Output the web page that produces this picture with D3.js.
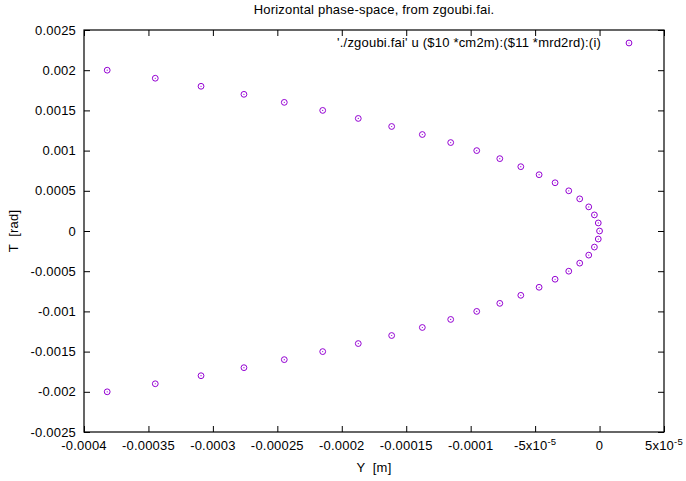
<!DOCTYPE html>
<html lang="en">
<head>
<meta charset="UTF-8">
<title>Horizontal phase-space, from zgoubi.fai.</title>
<script src="https://d3js.org/d3.v7.min.js"></script>
<style>
    body { margin: 0; background: #fff; }
    svg { display: block; font-family: 'Liberation Sans', Arial, sans-serif; }
    text { fill: #000; letter-spacing: 0.2px; }
</style>
</head>
<body>
<div id="chart"></div>
<script>
    // T [rad] of each particle
    const tValues = [
        0.002, 0.0019, 0.0018, 0.0017, 0.0016, 0.0015, 0.0014, 0.0013, 0.0012, 0.0011,
        0.001, 0.0009, 0.0008, 0.0007, 0.0006, 0.0005, 0.0004, 0.0003, 0.0002, 0.0001,
        0,
        -0.0001, -0.0002, -0.0003, -0.0004, -0.0005, -0.0006, -0.0007, -0.0008, -0.0009, -0.001,
        -0.0011, -0.0012, -0.0013, -0.0014, -0.0015, -0.0016, -0.0017, -0.0018, -0.0019, -0.002
    ];
    // Y [m] of each particle
    const yValues = [
        -3.82e-4, -3.447e-4, -3.092e-4, -2.759e-4, -2.446e-4, -2.148e-4, -1.872e-4, -1.613e-4, -1.375e-4, -1.155e-4,
        -9.53e-5, -7.74e-5, -6.11e-5, -4.69e-5, -3.45e-5, -2.39e-5, -1.54e-5, -8.4e-6, -4.0e-6, -1.0e-6,
        0,
        -1.0e-6, -4.0e-6, -8.4e-6, -1.54e-5, -2.39e-5, -3.45e-5, -4.69e-5, -6.11e-5, -7.74e-5, -9.53e-5,
        -1.155e-4, -1.375e-4, -1.613e-4, -1.872e-4, -2.148e-4, -2.446e-4, -2.759e-4, -3.092e-4, -3.447e-4, -3.82e-4
    ];

    const xTicks = [-0.0004, -0.00035, -0.0003, -0.00025, -0.0002, -0.00015, -0.0001, -0.00005, 0, 0.00005];
    const xTickLabels = ["-0.0004", "-0.00035", "-0.0003", "-0.00025", "-0.0002", "-0.00015", "-0.0001", "-5x10^-5", "0", "5x10^-5"];
    const yTicks = [0.0025, 0.002, 0.0015, 0.001, 0.0005, 0, -0.0005, -0.001, -0.0015, -0.002, -0.0025];
    const yTickLabels = ["0.0025", "0.002", "0.0015", "0.001", "0.0005", "0", "-0.0005", "-0.001", "-0.0015", "-0.002", "-0.0025"];

    const width = 686, height = 481;
    const margin = {top: 30, right: 22, bottom: 49, left: 84};
    const color = "#9400d3";
    const fs = 13;

    const svg = d3.select("#chart").append("svg")
        .attr("width", width)
        .attr("height", height);

    const x = d3.scaleLinear().domain([-0.0004, 0.00005]).range([margin.left, width - margin.right]);
    const y = d3.scaleLinear().domain([-0.0025, 0.0025]).range([height - margin.bottom, margin.top]);

    const tickLen = 6;

    // bottom axis, ticks inward
    svg.append("g")
        .attr("transform", `translate(0,${height - margin.bottom})`)
        .call(d3.axisBottom(x).tickValues(xTicks).tickSizeInner(-tickLen).tickSizeOuter(0).tickFormat(""));
    // top axis, ticks only
    svg.append("g")
        .attr("transform", `translate(0,${margin.top})`)
        .call(d3.axisTop(x).tickValues(xTicks).tickSizeInner(-tickLen).tickSizeOuter(0).tickFormat(""));
    // left axis
    svg.append("g")
        .attr("transform", `translate(${margin.left},0)`)
        .call(d3.axisLeft(y).tickValues(yTicks).tickSizeInner(-tickLen).tickSizeOuter(0)
            .tickFormat((d, i) => yTickLabels[i]))
        .call(g => g.selectAll("text").attr("x", -8).attr("font-size", fs).attr("font-family", null));
    // right axis
    svg.append("g")
        .attr("transform", `translate(${width - margin.right},0)`)
        .call(d3.axisRight(y).tickValues(yTicks).tickSizeInner(-tickLen).tickSizeOuter(0).tickFormat(""));

    svg.selectAll(".domain").remove();
    svg.selectAll(".tick line").attr("stroke", "#000");

    // x tick labels, with superscript exponents
    xTicks.forEach((v, i) => {
        const parts = xTickLabels[i].split("^");
        const t = svg.append("text")
            .attr("x", x(v))
            .attr("y", height - margin.bottom + 18)
            .attr("text-anchor", "middle")
            .attr("font-size", fs);
        t.append("tspan").text(parts[0]);
        if (parts[1]) {
            t.append("tspan").attr("dy", -5).attr("font-size", 9.5).text(parts[1]);
        }
    });

    // border
    svg.append("rect")
        .attr("x", margin.left)
        .attr("y", margin.top)
        .attr("width", width - margin.left - margin.right)
        .attr("height", height - margin.top - margin.bottom)
        .attr("fill", "none")
        .attr("stroke", "#000")
        .attr("stroke-width", 1.2);

    // points
    const pts = svg.append("g");
    tValues.forEach((t, i) => {
        const g = pts.append("g").attr("transform", `translate(${x(yValues[i])},${y(t)})`);
        g.append("circle").attr("r", 2.9).attr("fill", "none").attr("stroke", color).attr("stroke-width", 1);
        g.append("circle").attr("r", 0.6).attr("fill", color);
    });

    // legend
    svg.append("text")
        .attr("x", 601)
        .attr("y", 47)
        .attr("text-anchor", "end")
        .attr("font-size", fs)
        .text("'./zgoubi.fai' u ($10 *cm2m):($11 *mrd2rd):(i)");
    const lg = svg.append("g").attr("transform", "translate(629,43)");
    lg.append("circle").attr("r", 2.9).attr("fill", "none").attr("stroke", color).attr("stroke-width", 1);
    lg.append("circle").attr("r", 0.6).attr("fill", color);

    // title, centred over the plot area
    svg.append("text")
        .attr("x", (margin.left + width - margin.right) / 2)
        .attr("y", 14)
        .attr("text-anchor", "middle")
        .attr("font-size", fs)
        .text("Horizontal phase-space, from zgoubi.fai.");

    // axis labels
    svg.append("text")
        .attr("x", (margin.left + width - margin.right) / 2)
        .attr("y", 472)
        .attr("text-anchor", "middle")
        .attr("font-size", fs)
        .attr("xml:space", "preserve")
        .text("Y  [m]");
    svg.append("text")
        .attr("transform", `translate(18,${(margin.top + height - margin.bottom) / 2}) rotate(-90)`)
        .attr("text-anchor", "middle")
        .attr("font-size", fs)
        .attr("xml:space", "preserve")
        .text("T  [rad]");
</script>
</body>
</html>
